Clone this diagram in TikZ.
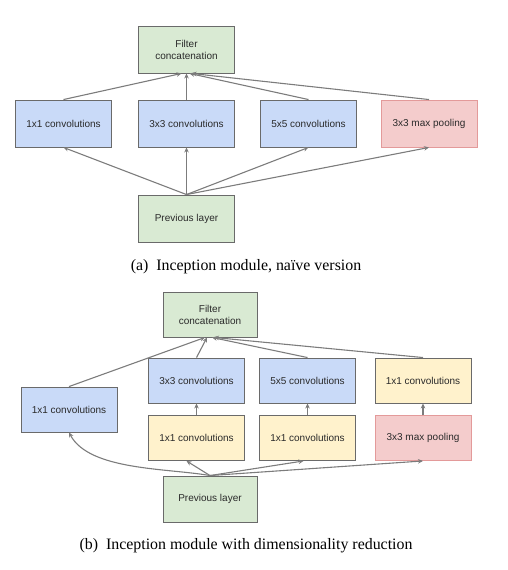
\documentclass[tikz,border=0pt]{standalone}
\usepackage{fontspec}
\setmainfont{Liberation Serif}
\newfontfamily\boxfont{Liberation Sans}
\usepackage{tikz}
\usetikzlibrary{arrows.meta,positioning}
\definecolor{incgreen} {HTML}{D9EAD3}
\definecolor{incblue}  {HTML}{C9DAF8}
\definecolor{incred}   {HTML}{F4CCCC}
\definecolor{incredln} {HTML}{E39A9A}
\definecolor{incyellow}{HTML}{FFF2CC}
\definecolor{incline}  {HTML}{6A6A6A}
\definecolor{incarrow} {HTML}{7C7C7C}
\definecolor{inctext}  {HTML}{2A2A2A}

\begin{document}
\begin{tikzpicture}[
  x=1pt,y=1pt,
  every node/.style={font=\boxfont\fontsize{10}{12}\selectfont,text=inctext,align=center},
  blk/.style={draw=incline,line width=0.9pt,minimum width=96pt,minimum height=47pt,inner sep=0pt},
  greenblk/.style={blk,fill=incgreen},
  blueblk/.style={blk,fill=incblue},
  redblk/.style={blk,fill=incred,draw=incredln},
  yellowblk/.style={blk,fill=incyellow},
  arr/.style={-{Stealth[length=5pt,width=4.5pt]},incarrow,line width=1.1pt},
  caption/.style={font=\rmfamily\fontsize{15.9}{18}\selectfont,text=black},
]
\useasboundingbox (0,0) rectangle (507,-570);

%% ── (a) naive version ───────────────────────────────────────────────────
\node[greenblk] (aconcat) at (186.5,-49.5) {Filter\\concatenation};
\node[blueblk]  (aone)    at (63.5,-123.5) {1x1 convolutions};
\node[blueblk]  (athree)  at (186.5,-123.5) {3x3 convolutions};
\node[blueblk]  (afive)   at (308.5,-123.5) {5x5 convolutions};
\node[redblk]   (apool)   at (429,-123.5) {3x3 max pooling};
\node[greenblk] (aprev)   at (186.5,-218.5) {Previous layer};

\foreach \n in {aone,athree,afive,apool}
  \draw[arr] (aprev.north) -- (\n.south);
\draw[arr] (aone.north)   -- ([xshift=-5pt]aconcat.south);
\draw[arr] (athree.north) -- (aconcat.south);
\draw[arr] (afive.north)  -- ([xshift=3pt]aconcat.south);
\draw[arr] (apool.north)  -- ([xshift=5pt]aconcat.south);

\node[caption] (acap) at (246,-267) {(a)\ \ Inception module, na\"ive version};

%% ── (b) with dimensionality reduction ───────────────────────────────────
\node[greenblk,minimum width=94pt,minimum height=45pt] (bconcat) at (210,-314.5) {Filter\\concatenation};
\node[blueblk,minimum height=45pt]   (bthree) at (196.5,-380.5) {3x3 convolutions};
\node[blueblk,minimum height=45pt]   (bfive)  at (307.5,-380.5) {5x5 convolutions};
\node[yellowblk,minimum height=45pt] (bpone)  at (423,-380.5) {1x1 convolutions};
\node[blueblk,minimum height=45pt]   (bone)   at (69,-409.5) {1x1 convolutions};
\node[yellowblk,minimum height=45pt] (bredthree) at (196.5,-438) {1x1 convolutions};
\node[yellowblk,minimum height=45pt] (bredfive)  at (307.5,-438) {1x1 convolutions};
\node[redblk,minimum height=45pt]    (bpool)  at (423,-438) {3x3 max pooling};
\node[greenblk,minimum width=94pt,minimum height=46pt] (bprev) at (210,-499) {Previous layer};

%% from previous layer
\draw[arr] (bprev.north) to[out=170,in=-62,looseness=0.75] (bone.south);
\draw[arr] (bprev.north) -- ([xshift=-10pt]bredthree.south);
\draw[arr] (bprev.north) -- ([xshift=-4pt]bredfive.south);
\draw[arr] (bprev.north) -- (bpool.south);

%% reductions
\draw[arr] (bredthree.north) -- (bthree.south);
\draw[arr] (bredfive.north)  -- (bfive.south);
\draw[arr] (bpool.north)     -- (bpone.south);

%% into concatenation
\draw[arr] (bone.north)   -- ([xshift=-5pt]bconcat.south);
\draw[arr] (bthree.north) -- ([xshift=-3pt]bconcat.south);
\draw[arr] (bfive.north)  -- ([xshift=2pt]bconcat.south);
\draw[arr] (bpone.north)  -- ([xshift=4pt]bconcat.south);

\node[caption] (bcap) at (246,-546) {(b)\ \ Inception module with dimensionality reduction};

\end{tikzpicture}
\end{document}
